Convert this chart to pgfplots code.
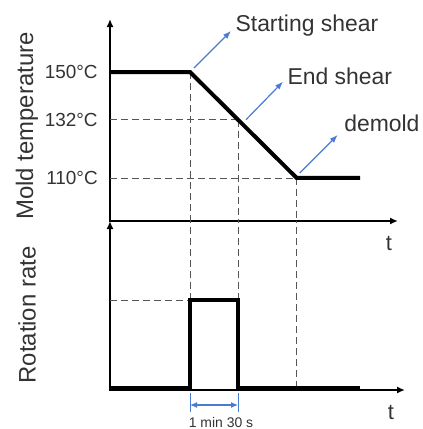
\documentclass[border=0pt]{standalone}
\usepackage{fontspec}
\setmainfont{Liberation Sans}
\usepackage{pgfplots}
\usepackage{pgfplotstable}
\pgfplotsset{compat=1.18}
\usetikzlibrary{arrows.meta}

\definecolor{txt}{HTML}{333333}
\definecolor{guidegray}{HTML}{555555}
\definecolor{note}{HTML}{4A7BD0}

% mold temperature profile (time in arbitrary units)
\pgfplotstableread{
t T
0 150
80 150
186.7 110
250 110
}\temperature

% rotation rate: on during shearing only
\pgfplotstableread{
t r
0 0
80 0
80 1
128 1
128 0
250 0
}\rotation

\pgfplotsset{
  sketch/.style={
    scale only axis,
    axis lines=left,
    axis line style={draw=none},
    enlargelimits=false,
    clip=false,
    xtick=\empty,
    tick style={draw=none},
    /pgf/number format/assume math mode=true,
  },
}
\tikzset{
  axisline/.style={black, line width=2.1bp, line join=miter,
    {Latex[length=8bp,width=7bp]}-{Latex[length=8bp,width=7bp]}},
  guideline/.style={draw=guidegray, line width=0.9bp, dash pattern=on 7bp off 4bp},
  data/.style={black, line width=4bp, line join=miter},
  callout/.style={draw=note, line width=1.2bp, -{Latex[length=8bp,width=6bp]}},
  calltext/.style={text=txt, inner sep=0pt, font=\fontsize{23}{23}\selectfont},
}

\begin{document}
\begin{tikzpicture}
\useasboundingbox (0,0) rectangle (423bp,-429bp);

% upper panel: mold temperature
\begin{axis}[sketch,
  at={(110bp,-221bp)}, anchor=south west,
  width=288bp, height=202bp,
  xmin=0, xmax=288, ymin=93.77, ymax=170.0,
  ytick={110,132,150},
  yticklabels={110°C,132°C,150°C},
  yticklabel style={text=txt, inner sep=0pt, xshift=-10bp,
    font=\fontsize{19}{19}\selectfont},
]
\draw[axisline] (rel axis cs:0,1) -- (rel axis cs:0,0) -- (rel axis cs:1,0);
\addplot[guideline] coordinates {(0,132) (128,132)};
\addplot[guideline] coordinates {(0,110) (186.7,110)};
\addplot[guideline] coordinates {(80,150) (80,93.77)};
\addplot[guideline] coordinates {(128,132) (128,93.77)};
\addplot[guideline] coordinates {(186.7,110) (186.7,93.77)};
\addplot[data] table[x=t, y=T] {\temperature};

\draw[callout] ([shift={(4bp,4bp)}]axis cs:80,150) -- ++(37bp,37bp)
  node[calltext, anchor=base west, xshift=4bp] {Starting shear};
\draw[callout] ([shift={(8bp,0bp)}]axis cs:128,132) -- ++(37bp,38bp)
  node[calltext, anchor=base west, xshift=4bp, yshift=-3bp] {End shear};
\draw[callout] ([shift={(3bp,5bp)}]axis cs:186.7,110) -- ++(38bp,38bp)
  node[calltext, anchor=base west, xshift=6bp, yshift=3bp] {demold};
\end{axis}

% lower panel: rotation rate
\begin{axis}[sketch,
  at={(110bp,-390bp)}, anchor=south west,
  width=295bp, height=169bp,
  xmin=0, xmax=295, ymin=-0.023, ymax=1.898,
  ytick=\empty,
]
\draw[axisline] (rel axis cs:0,1) -- (rel axis cs:0,0) -- (rel axis cs:1,0);
\addplot[guideline] coordinates {(0,1) (80,1)};
\addplot[guideline] coordinates {(80,1) (80,1.898)};
\addplot[guideline] coordinates {(128,1) (128,1.898)};
\addplot[guideline] coordinates {(186.7,0) (186.7,1.898)};
\addplot[data] table[x=t, y=r] {\rotation};

\draw[draw=note, line width=0.9bp] ([yshift=-3bp]axis cs:80,-0.023) -- ++(0,-21bp);
\draw[draw=note, line width=0.9bp] ([yshift=-3bp]axis cs:128,-0.023) -- ++(0,-21bp);
\draw[draw=note, line width=1.1bp, {Latex[length=7bp,width=6bp]}-{Latex[length=7bp,width=6bp]}]
  ([yshift=-15bp]axis cs:80,-0.023) -- ([yshift=-15bp]axis cs:128,-0.023);
\end{axis}

% axis titles and labels
\node[rotate=90, text=txt, inner sep=0pt, font=\fontsize{24}{24}\selectfont]
  at (27bp,-126bp) {Mold temperature};
\node[rotate=90, text=txt, inner sep=0pt, font=\fontsize{24}{24}\selectfont]
  at (27bp,-315bp) {Rotation rate};
\node[anchor=base, text=txt, inner sep=0pt, font=\fontsize{22}{22}\selectfont]
  at (389bp,-250bp) {t};
\node[anchor=base, text=txt, inner sep=0pt, font=\fontsize{22}{22}\selectfont]
  at (391bp,-419bp) {t};
\node[anchor=base, text=txt, inner sep=0pt, font=\fontsize{14}{14}\selectfont]
  at (221bp,-427bp) {1 min 30 s};
\end{tikzpicture}
\end{document}
